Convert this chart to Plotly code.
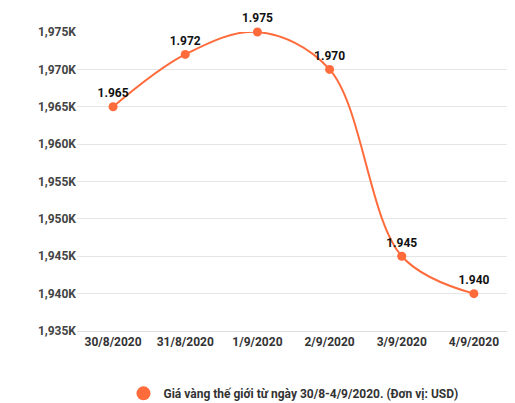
import plotly.graph_objects as go

dates = ['30/8/2020', '31/8/2020', '1/9/2020', '2/9/2020', '3/9/2020', '4/9/2020']
prices = [1965, 1972, 1975, 1970, 1945, 1940]
point_labels = ['1.965', '1.972', '1.975', '1.970', '1.945', '1.940']
tick_vals = [1935, 1940, 1945, 1950, 1955, 1960, 1965, 1970, 1975]
tick_text = ['1,935K', '1,940K', '1,945K', '1,950K', '1,955K', '1,960K', '1,965K', '1,970K', '1,975K']

color = '#FF6B3B'
xs = list(range(len(dates)))

fig = go.Figure()
fig.add_trace(go.Scatter(
    x=xs, y=prices,
    mode='lines+markers+text',
    line=dict(color=color, width=2, shape='spline', smoothing=1.0),
    marker=dict(color=color, size=9),
    text=['<b>%s</b>' % t for t in point_labels], textposition='top center',
    textfont=dict(family='Roboto', size=12, color='#111'),
    showlegend=False,
    cliponaxis=False,
))
# chỉ để hiện chú thích dạng chấm tròn
fig.add_trace(go.Scatter(
    x=[None], y=[None], mode='markers',
    marker=dict(color=color, size=14),
    name='<b>Giá vàng thế giới từ ngày 30/8-4/9/2020. (Đơn vị: USD)</b>',
))

fig.update_layout(
    width=515, height=403,
    margin=dict(l=69, r=13, t=24, b=80, autoexpand=False),
    plot_bgcolor='white', paper_bgcolor='white',
    font=dict(family='Roboto', size=12, color='#444'),
    showlegend=True,
    legend=dict(orientation='h', x=0.5, xanchor='center', y=-0.16, yanchor='top',
                font=dict(family='Roboto', size=12, color='#333')),
)
fig.update_xaxes(
    tickvals=xs, ticktext=['<b>%s</b>' % d for d in dates],
    range=[-0.5, 5.5], showgrid=False, zeroline=False,
    showline=True, linecolor='#ddd', ticks='', tickfont=dict(color='#333'),
)
fig.update_yaxes(
    tickvals=tick_vals, ticktext=['<b>%s</b>' % t for t in tick_text],
    range=[1935, 1975], showgrid=True, gridcolor='#e6e6e6', zeroline=False,
    tickfont=dict(color='#444'), ticks='',
)

fig.write_html('out.html')
